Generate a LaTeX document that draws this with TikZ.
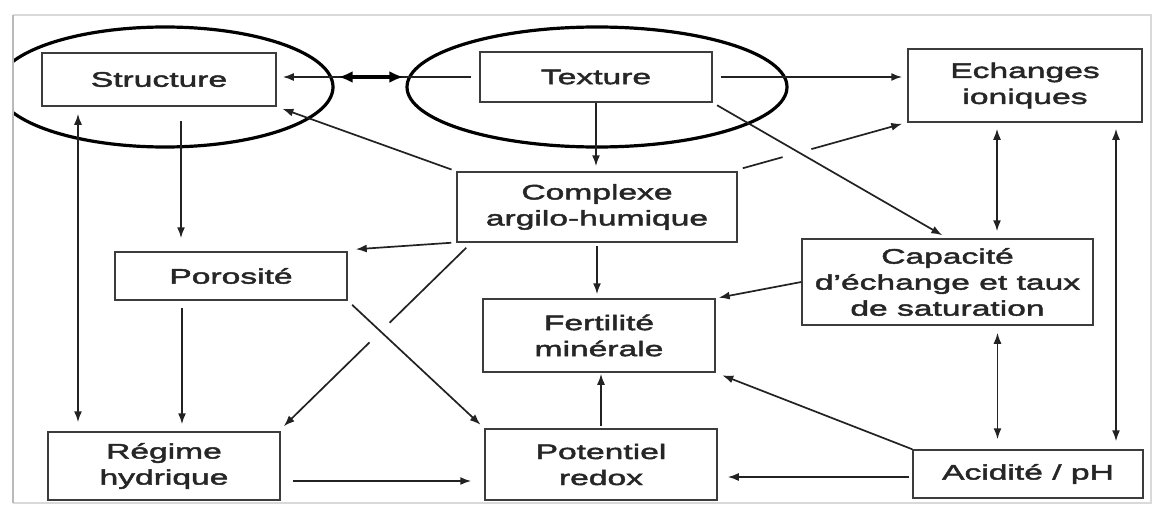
\documentclass[tikz,border=0pt]{standalone}
\usepackage{fontspec}
\setmainfont{Liberation Sans}[FakeStretch=1.6,FakeBold=2.2]
\usetikzlibrary{arrows.meta,shapes.geometric,calc}
\definecolor{boxc}{HTML}{3C3C3C}
\definecolor{linec}{HTML}{222222}
\definecolor{txt}{HTML}{262626}
\begin{document}
\begin{tikzpicture}[x=1pt,y=-1pt,
 box/.style={draw=boxc, line width=1.5pt, inner sep=0pt, align=center,
   font=\fontsize{21}{26}\selectfont, text=txt},
 tipa/.tip={Latex[length=11pt,width=8pt]},
 arr/.style={draw=linec, line width=1.7pt, -tipa},
 seg/.style={draw=linec, line width=1.7pt},
 dbl/.style={draw=linec, line width=1.7pt, tipa-tipa},
 ring/.style={ellipse, draw=black, line width=3.2pt, inner sep=0pt},
]
\fill[white] (0,0) rectangle (1159,506);
\useasboundingbox (0,0) rectangle (1159,506);
\draw[gray!30, line width=2pt] (13,15) -- (1151,15) -- (1151,503) -- (13,503);
\draw[gray!55, line width=2pt] (13,15) -- (13,503);

% boxes
\node[box, minimum width=234pt, minimum height=53pt] (struct) at (159,79.5) {Structure};
\node[box, minimum width=232pt, minimum height=50pt] (tex) at (596,77) {Texture};
\node[box, minimum width=234pt, minimum height=73pt] (ech) at (1025,85.5) {Echanges\\ioniques};
\node[box, minimum width=280pt, minimum height=70pt] (comp) at (597,207) {Complexe\\argilo-humique};
\node[box, minimum width=291pt, minimum height=86pt] (cap) at (947.5,282) {Capacité\\d'échange et taux\\de saturation};
\node[box, minimum width=232pt, minimum height=48pt] (poro) at (231,276) {Porosité};
\node[box, minimum width=232pt, minimum height=73pt] (fert) at (599,335.5) {Fertilité\\minérale};
\node[box, minimum width=232pt, minimum height=68pt] (reg) at (164,466) {Régime\\hydrique};
\node[box, minimum width=232pt, minimum height=71pt] (pot) at (601,464.5) {Potentiel\\redox};
\node[box, minimum width=230pt, minimum height=48pt] (acid) at (1028,474) {Acidité / pH};

% ellipses
\begin{scope}
\clip (14,0) rectangle (1159,506);
\node[ring, minimum width=336pt, minimum height=120pt] (e1) at (165,87) {};
\end{scope}
\node[ring, minimum width=380pt, minimum height=120pt] (e2) at (597,87) {};

% connectors
\draw[arr, shorten <=8pt, shorten >=6pt] (tex.west) -- (tex.west -| struct.east);
\draw[line width=3.2pt, {Latex[length=14pt,width=12pt]}-{Latex[length=14pt,width=12pt]}, shorten <=4pt, shorten >=2pt]
  (e1.east |- tex.west) -- (e2.west |- tex.west);
\draw[arr, shorten <=8pt, shorten >=5pt] (tex.east) -- (tex.east -| ech.west);
\draw[arr, shorten >=5pt] (tex.south) -- (tex.south |- comp.north);
\draw[arr, shorten <=5pt, shorten >=6pt] (tex.south east) -- (cap.north);
\draw[arr, shorten <=5pt, shorten >=6pt] (comp.north west) -- (struct.south east);

\coordinate (a7) at ([xshift=5pt,yshift=3pt]comp.north east);
\coordinate (b7) at ([xshift=-5pt,yshift=-1pt]ech.south west);
\draw[seg] (a7) -- ($(a7)!0.25!(b7)$);
\draw[arr] ($(a7)!0.43!(b7)$) -- (b7);

\draw[arr] ([xshift=-5pt]comp.south west) -- ([xshift=8pt,yshift=2pt]poro.north east);
\draw[arr, shorten <=3pt, shorten >=4pt] (comp.south) -- (comp.south |- fert.north);
\draw[arr, shorten >=3pt] (cap.west) -- (fert.north east);
\draw[arr, shorten <=14pt, shorten >=13pt] ([xshift=22pt]struct.south) -- ([xshift=22pt]struct.south |- poro.north);
\draw[dbl, shorten <=7pt, shorten >=9pt] ([xshift=-81pt]struct.south) -- ([xshift=-81pt]struct.south |- reg.north);
\draw[arr, shorten <=7pt, shorten >=7pt] ([xshift=-49pt]poro.south) -- ([xshift=-49pt]poro.south |- reg.north);
\draw[arr, shorten <=6pt, shorten >=5pt] (poro.south east) -- (pot.north west);

\coordinate (a15) at ([xshift=10pt,yshift=-5pt]comp.south west);
\coordinate (b15) at ([xshift=3pt,yshift=5pt]reg.north east);
\draw[seg] (a15) -- ($(a15)!0.42!(b15)$);
\draw[arr] ($(a15)!0.53!(b15)$) -- (b15);

\draw[arr, shorten <=12pt, shorten >=13pt] ([yshift=-15pt]reg.east) -- ([yshift=-15pt]reg.east -| pot.west);
\draw[arr, shorten <=2pt, shorten >=1pt] (pot.north) -- (pot.north |- fert.south);
\draw[arr, shorten >=7pt] (acid.north west) -- (fert.south east);
\draw[arr, shorten <=3pt, shorten >=10pt] ([yshift=-3pt]acid.west) -- ([yshift=-3pt]acid.west -| pot.east);
\draw[dbl, shorten <=6pt, shorten >=7pt] ([xshift=-28pt]ech.south) -- ([xshift=-28pt]ech.south |- cap.north);
\draw[dbl, shorten <=6pt, shorten >=8pt] ([xshift=91pt]ech.south) -- ([xshift=91pt]ech.south |- acid.north);
\draw[dbl, shorten <=7pt, shorten >=10pt] ([xshift=50pt]cap.south) -- ([xshift=50pt]cap.south |- acid.north);
\end{tikzpicture}
\end{document}
